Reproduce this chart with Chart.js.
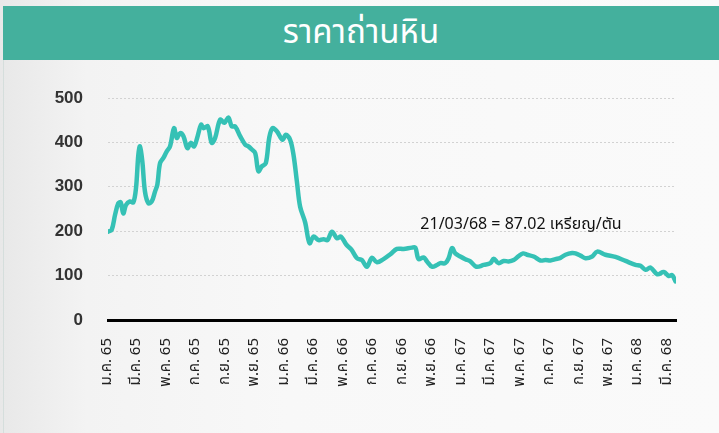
<!DOCTYPE html>
<html><head><meta charset="utf-8">
<script src="https://cdn.jsdelivr.net/npm/chart.js@4"></script>
<style>
html,body{margin:0;padding:0;width:719px;height:433px;overflow:hidden;}
body{position:relative;background:linear-gradient(90deg,#e8e8e8 0%,#f3f3f3 12%,#f8f8f8 40%,#fafafa 100%);font-family:"Noto Sans Thai","Noto Sans",sans-serif;}
#edge{position:absolute;left:3px;top:60px;width:1px;height:373px;background:#d5dedc;}
#hdr{position:absolute;left:3px;top:6px;width:716px;height:54px;background:#44b09d;color:#fff;text-align:center;font-size:33px;line-height:54px;}
#c{position:absolute;left:0;top:0;}
</style></head>
<body>
<div id="edge"></div>
<div id="hdr">ราคาถ่านหิน</div>
<canvas id="c" width="719" height="433"></canvas>
<script>
// months since ม.ค. 65 (Jan 2022)
const monthPos=[0,0.25,0.48,0.70,0.86,1.04,1.22,1.49,1.72,1.90,2.06,2.17,2.33,2.51,2.74,2.97,3.19,3.35,3.53,3.76,3.99,4.21,4.48,4.67,4.89,5.12,5.39,5.62,5.84,6.05,6.32,6.47,6.77,7.04,7.27,7.61,7.90,8.17,8.40,8.63,8.97,9.31,9.53,9.76,9.99,10.21,10.44,10.71,10.94,11.16,11.46,11.84,12.07,12.36,12.59,12.82,13.04,13.38,13.68,13.95,14.29,14.63,14.90,15.20,15.54,15.81,16.17,16.51,16.90,17.23,17.57,17.91,18.25,18.70,19.16,19.61,20.06,20.63,20.86,21.08,21.42,21.65,21.99,22.33,22.55,22.89,23.12,23.35,23.57,23.91,24.25,24.59,25.00,25.50,25.95,26.18,26.51,26.85,27.19,27.53,27.87,28.17,28.44,28.89,29.35,29.69,30.03,30.37,30.71,31.05,31.50,31.73,32.07,32.40,32.86,33.20,33.76,34.44,35.12,35.80,36.14,36.48,36.82,37.28,37.72,38.06,38.29,38.52];
// coal price, USD/ton
const price=[199,203,237,263,265,240,259,267,265,297,372,391,357,289,263,267,289,305,353,365,380,391,432,410,421,414,387,399,391,410,440,432,436,399,410,451,444,456,436,436,414,395,391,384,376,335,346,353,410,432,425,406,417,406,372,312,255,220,173,188,180,182,180,199,184,188,170,159,139,135,120,140,130,137,148,160,160,163,163,137,141,132,120,124,128,128,139,162,150,143,137,132,120,124,128,138,128,133,132,135,144,150,147,143,134,135,134,137,140,147,151,150,145,139,143,154,147,142,133,124,122,113,118,103,108,99,101,87.02];
const tickMonths=[0,2,4,6,8,10,12,14,16,18,20,22,24,26,28,30,32,34,36,38];
const tickLabels=['ม.ค. 65','มี.ค. 65','พ.ค. 65','ก.ค. 65','ก.ย. 65','พ.ย. 65','ม.ค. 66','มี.ค. 66','พ.ค. 66','ก.ค. 66','ก.ย. 66','พ.ย. 66','ม.ค. 67','มี.ค. 67','พ.ค. 67','ก.ค. 67','ก.ย. 67','พ.ย. 67','ม.ค. 68','มี.ค. 68'];
const yTicks=[0,100,200,300,400,500];
const noteText='21/03/68 = 87.02 เหรียญ/ตัน';
const noteMonth=21.2, noteValue=206;
const lastMonth=38.55;

const THAI='"Noto Sans Thai","Noto Sans",sans-serif';
const noteLabel={
  id:'noteLabel',
  afterDatasetsDraw(chart){
    const {ctx,scales:{x,y}}=chart;
    ctx.save();
    ctx.font='16px '+THAI;
    ctx.fillStyle='#111';
    ctx.textAlign='left';
    ctx.textBaseline='alphabetic';
    ctx.fillText(noteText,x.getPixelForValue(noteMonth),y.getPixelForValue(noteValue));
    ctx.restore();
  }
};

new Chart(document.getElementById('c'),{
  type:'line',
  data:{datasets:[{
    data:monthPos.map((m,i)=>({x:m,y:price[i]})),
    borderColor:'#35c1b5',
    borderWidth:4.5,
    pointRadius:0,
    tension:0.35,
    borderJoinStyle:'round',
    borderCapStyle:'round',
    fill:false
  }]},
  options:{
    responsive:false,
    animation:false,
    layout:{padding:{top:98,right:43,left:0,bottom:0}},
    plugins:{legend:{display:false},tooltip:{enabled:false}},
    scales:{
      x:{
        type:'linear',min:0,max:lastMonth,
        afterBuildTicks:s=>{s.ticks=tickMonths.map(v=>({value:v}));},
        afterFit:s=>{s.height=113;},
        grid:{display:false},
        border:{display:true,color:'#000',width:3},
        ticks:{autoSkip:false,minRotation:90,maxRotation:90,padding:10,color:'#222',
          font:{family:THAI,size:15},
          callback:(v,i)=>tickLabels[i]}
      },
      y:{
        min:0,max:500,
        afterBuildTicks:s=>{s.ticks=yTicks.map(v=>({value:v}));},
        afterFit:s=>{s.width=108;},
        grid:{drawTicks:false,lineWidth:1,color:c=>c.tick&&c.tick.value===0?'rgba(0,0,0,0)':'#d2d2d2'},
        border:{display:false,dash:[2,2]},
        ticks:{padding:25,color:'#333',font:{family:'"Liberation Sans",Arial,sans-serif',size:17,weight:'bold'}}
      }
    }
  },
  plugins:[noteLabel]
});
</script>
</body></html>
